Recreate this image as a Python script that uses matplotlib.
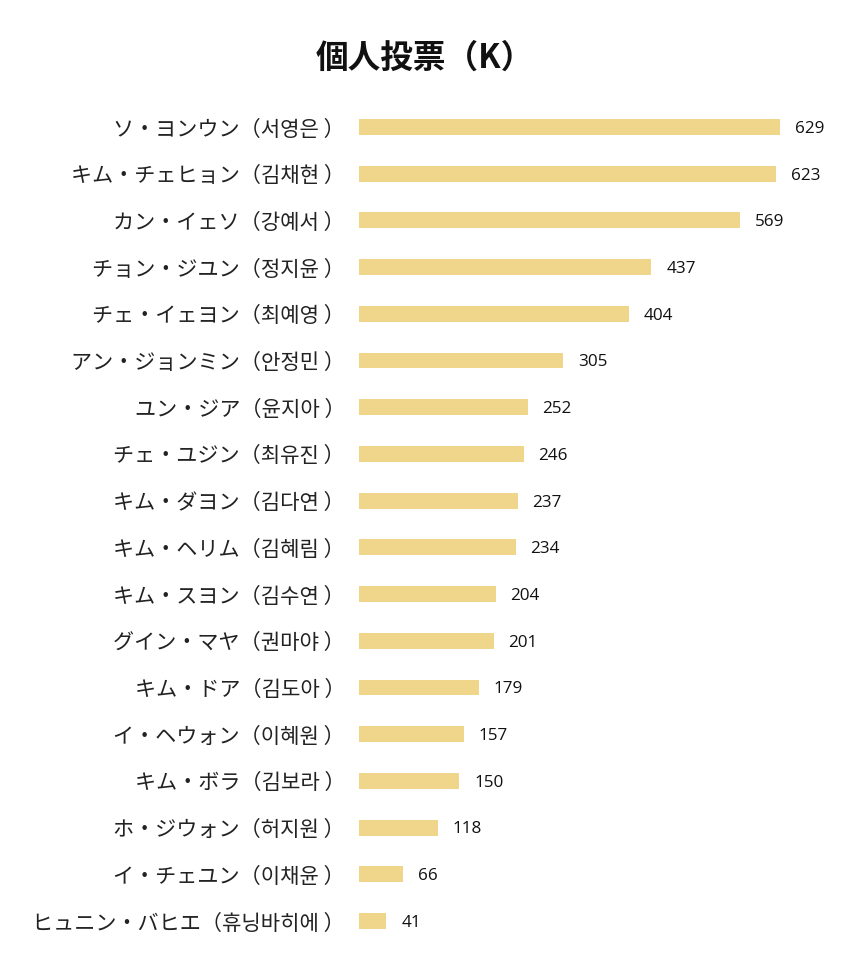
import matplotlib
matplotlib.use("Agg")
import matplotlib.pyplot as plt

# dados do gráfico
nomes_jp = [
    "ソ・ヨンウン", "キム・チェヒョン", "カン・イェソ", "チョン・ジユン",
    "チェ・イェヨン", "アン・ジョンミン", "ユン・ジア", "チェ・ユジン",
    "キム・ダヨン", "キム・ヘリム", "キム・スヨン", "グイン・マヤ",
    "キム・ドア", "イ・ヘウォン", "キム・ボラ", "ホ・ジウォン",
    "イ・チェユン", "ヒュニン・バヒエ",
]
nomes_kr = [
    "서영은", "김채현", "강예서", "정지윤", "최예영", "안정민", "윤지아", "최유진",
    "김다연", "김혜림", "김수연", "권마야", "김도아", "이혜원", "김보라", "허지원",
    "이채윤", "휴닝바히에",
]
votos = [629, 623, 569, 437, 404, 305, 252, 246, 237, 234, 204, 201, 179, 157, 150, 118, 66, 41]

rotulos = [jp + "（" + kr + " ）" for jp, kr in zip(nomes_jp, nomes_kr)]

cor_barra = "#F0D68A"
fonte = ["Noto Sans CJK JP", "DejaVu Sans"]

fig = plt.figure(figsize=(8.5, 9.74), dpi=100)
ax = fig.add_axes([0.4224, 0.0304, 0.551, 0.8632])

pos = list(range(len(rotulos)))
ax.barh(pos, votos, height=0.34, color=cor_barra)
ax.set_ylim(len(rotulos) - 0.5, -0.5)
ax.set_xlim(0, 700)

ax.set_yticks(pos)
ax.set_yticklabels(rotulos, fontsize=15.2, family=fonte, color="#222222")
ax.tick_params(axis="y", length=0, pad=10)
ax.set_xticks([])
for lado in ax.spines.values():
    lado.set_visible(False)

# valores ao lado das barras
for p, v in zip(pos, votos):
    ax.text(v + 22, p + 0.04, str(v), va="center", ha="left", fontsize=12.3,
            family=["Open Sans", "DejaVu Sans"], color="#111111")

fig.text(0.5, 0.94, "個人投票（K）", ha="center", va="center", fontsize=23.5,
         fontweight="bold", family=fonte, color="#111111")

fig.savefig("out.png", dpi=100, facecolor="white")
